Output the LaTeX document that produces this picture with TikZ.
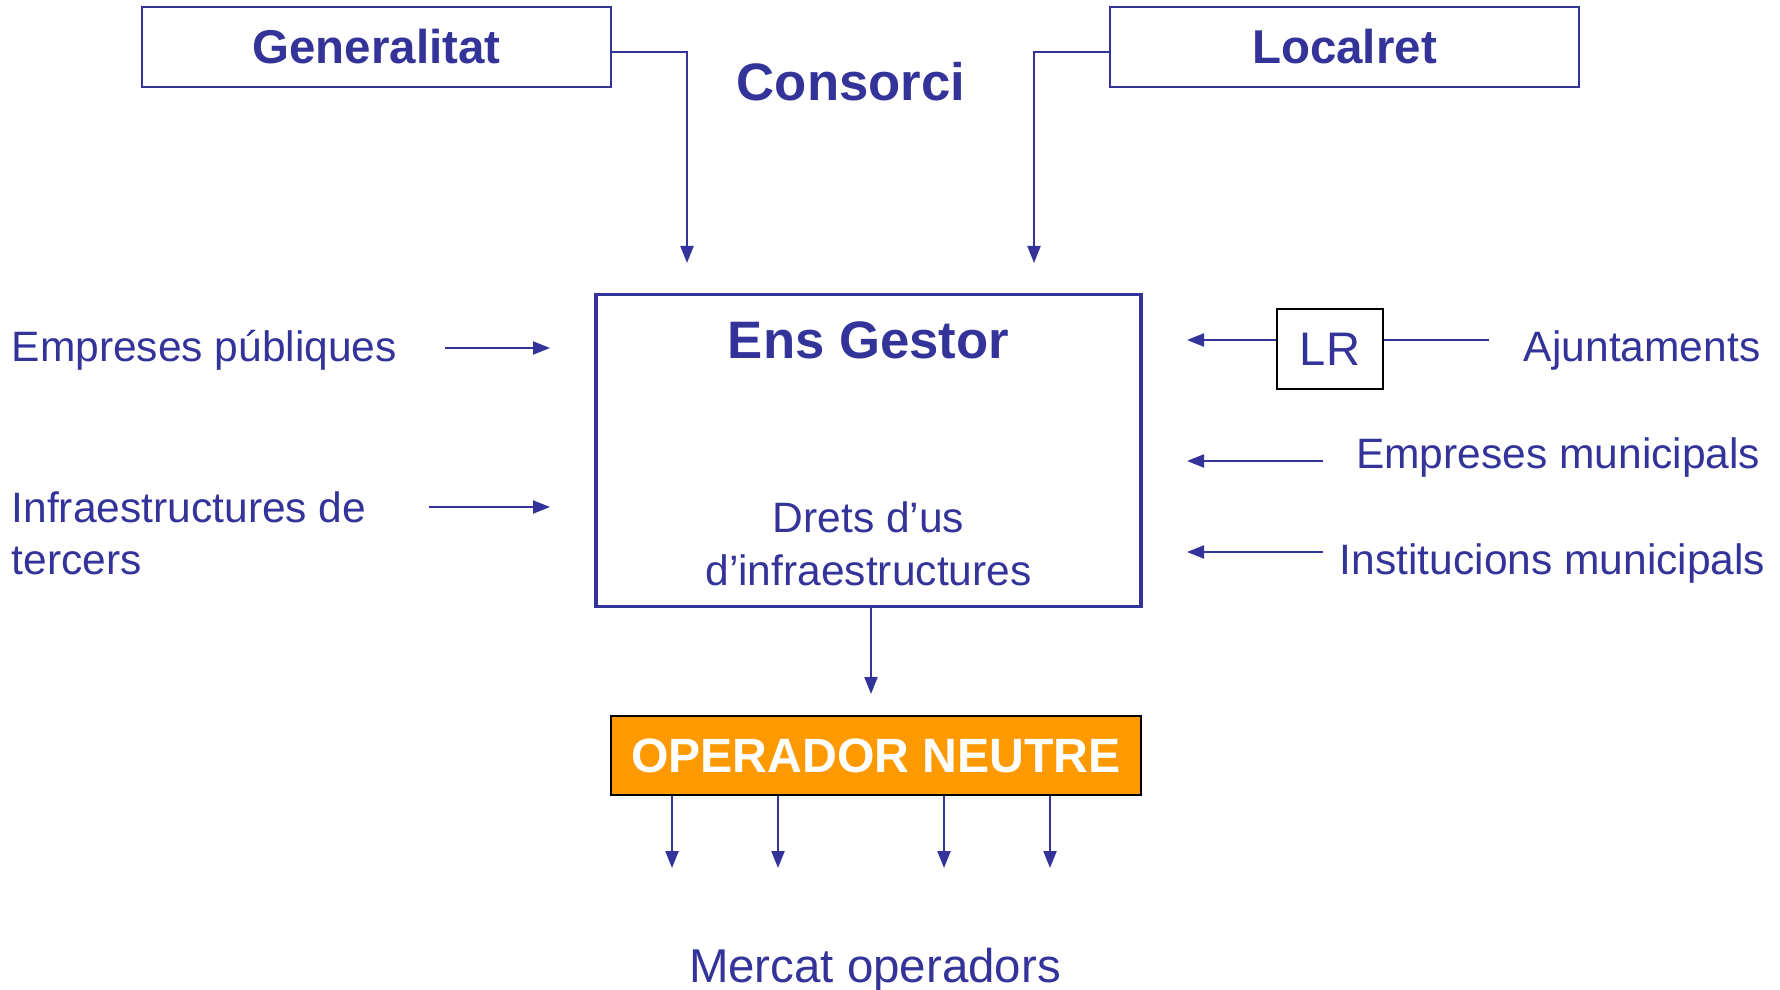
\documentclass[tikz,border=0pt]{standalone}
\usepackage{fontspec}
\setmainfont{Liberation Sans}
\usepackage{xcolor}
\usetikzlibrary{arrows.meta}
\definecolor{navy}{HTML}{333399}
\definecolor{neutre}{HTML}{FF9900}

\begin{document}
\begin{tikzpicture}[x=0.1mm,y=-0.1mm,
  txt/.style={text=navy,inner sep=0pt,font=\fontsize{12.1}{14.5}\selectfont},
  title/.style={text=navy,inner sep=0pt,font=\bfseries\fontsize{15}{18}\selectfont},
  topbox/.style={draw=navy,line width=0.6pt,text=navy,inner sep=0pt,
    minimum width=46.9mm,minimum height=8mm,font=\bfseries\fontsize{13.5}{16}\selectfont},
  arr/.style={draw=navy,line width=0.6pt,-{Triangle[length=1.7mm,width=1.3mm]}},
  line/.style={draw=navy,line width=0.6pt}]
\useasboundingbox (0,0) rectangle (1780,990);

\node[topbox] (gen) at (376.5,47) {Generalitat};
\node[topbox] (loc) at (1344.5,47) {Localret};
\node[title,anchor=base] (cons) at (851,101) {Consorci};

\coordinate (gen-end) at (687,263);
\coordinate (loc-end) at (1034,263);
\draw[arr] ([yshift=-0.5mm]gen.east) -| (gen-end);
\draw[arr] ([yshift=-0.5mm]loc.west) -| (loc-end);

% ens gestor
\node[draw=navy,line width=1pt,minimum width=54.5mm,minimum height=31.2mm] (ens) at (868.5,450.5) {};
\node[title,anchor=base] (ens-t) at (868.5,359) {Ens Gestor};
\node[txt,anchor=base] (drets) at (868.5,533) {Drets d’us};
\node[txt,anchor=base] (infra) at (868.5,585) {d’infraestructures};

% left side
\node[txt,anchor=base west] (ep) at (11,362) {Empreses públiques};
\coordinate (ep-a) at (445,348);
\coordinate (ep-b) at (550,348);
\draw[arr] (ep-a) -- (ep-b);
\node[txt,anchor=base west] (it1) at (11,523) {Infraestructures de};
\node[txt,anchor=base west] (it2) at (11,574) {tercers};
\coordinate (it-a) at (429,507);
\coordinate (it-b) at (550,507);
\draw[arr] (it-a) -- (it-b);

% right side
\node[draw=black,line width=0.6pt,text=navy,inner sep=0pt,minimum width=10.6mm,minimum height=8mm,
  font=\fontsize{13.4}{16}\selectfont] (lr) at (1330,349) {LR};
\coordinate (lr-in) at (1187,340);
\coordinate (aj-end) at (1489,340);
\draw[arr] (lr.west |- lr-in) -- (lr-in);
\draw[line] (lr.east |- aj-end) -- (aj-end);
\node[txt,anchor=base east] (aj) at (1761,362) {Ajuntaments};
\node[txt,anchor=base east] (em) at (1761,469) {Empreses municipals};
\coordinate (em-a) at (1323,461);
\coordinate (em-b) at (1187,461);
\draw[arr] (em-a) -- (em-b);
\node[txt,anchor=base east] (im) at (1766,574) {Institucions municipals};
\coordinate (im-a) at (1323,552);
\coordinate (im-b) at (1187,552);
\draw[arr] (im-a) -- (im-b);

% operador
\coordinate (op-in) at (871,694);
\draw[arr] (ens.south -| op-in) -- (op-in);
\node[draw=black,fill=neutre,line width=0.6pt,text=white,inner sep=0pt,minimum width=53mm,minimum height=7.9mm,
  font=\bfseries\fontsize{13.7}{16}\selectfont] (op) at (876,755.5) {OPERADOR NEUTRE};
\foreach \x [count=\i] in {672,778,944,1050} {
  \coordinate (mk\i) at (\x,868);
  \draw[arr] (op.south -| mk\i) -- (mk\i);
}
\node[txt,font=\fontsize{13.5}{16}\selectfont,anchor=base] (mk) at (875,982) {Mercat operadors};
\end{tikzpicture}
\end{document}
